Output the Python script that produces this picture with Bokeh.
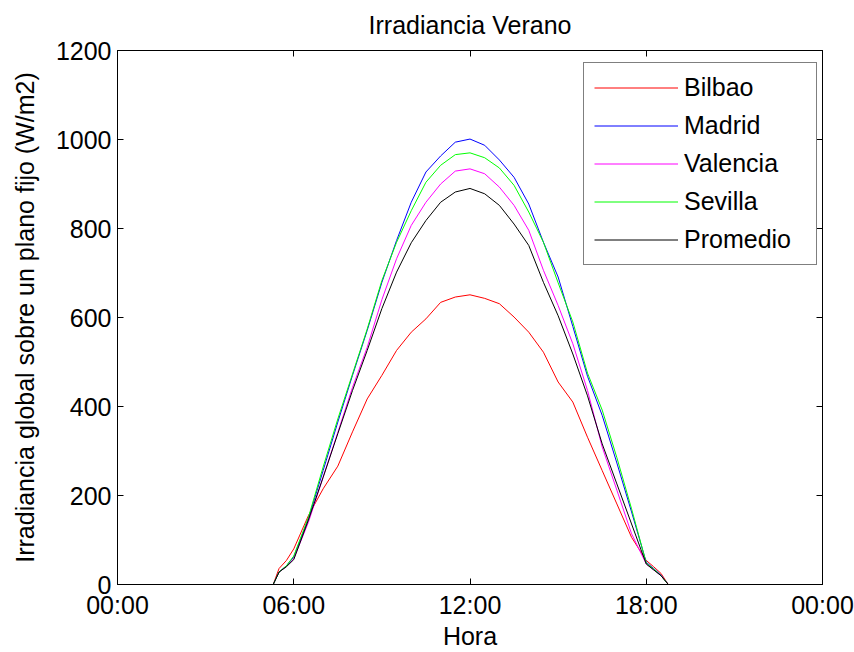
from bokeh.plotting import figure
from bokeh.models import Range1d, FixedTicker, LinearAxis, Legend, LegendItem, Title
from bokeh.embed import file_html
from bokeh.resources import INLINE

# Time of day (hours)
horas = [5.3, 5.5, 5.75, 6.0, 6.5, 7.0, 7.5, 8.0, 8.5, 9.0, 9.5, 10.0, 10.5, 11.0, 11.5, 12.0,
         12.5, 13.0, 13.5, 14.0, 14.5, 15.0, 15.5, 16.0, 16.5, 17.0, 17.5, 18.0, 18.25, 18.5, 18.75]

bilbao = [0, 36, 54, 80, 155, 215, 266, 343, 417, 470, 526, 567, 597, 634, 646, 651,
          643, 631, 601, 567, 522, 455, 410, 331, 256, 181, 106, 54, 40, 25, 0]
madrid = [0, 28, 42, 62, 148, 256, 365, 470, 571, 679, 773, 859, 927, 963, 994, 1001,
          987, 954, 915, 855, 769, 691, 580, 468, 380, 273, 163, 50, 36, 21, 0]
valencia = [0, 28, 40, 58, 140, 241, 342, 443, 533, 640, 732, 807, 859, 900, 929, 934,
            923, 893, 852, 796, 706, 627, 541, 436, 309, 212, 114, 46, 33, 20, 0]
sevilla = [0, 28, 42, 64, 151, 264, 372, 473, 574, 683, 769, 840, 904, 942, 966, 970,
           959, 936, 897, 837, 769, 678, 590, 475, 392, 285, 170, 48, 35, 20, 0]
promedio = [0, 28, 40, 56, 145, 241, 339, 436, 526, 620, 702, 768, 818, 859, 882, 890,
            878, 852, 810, 762, 679, 604, 518, 424, 316, 226, 136, 46, 33, 20, 0]

series = [("Bilbao", bilbao, "#ff0000"),
          ("Madrid", madrid, "#0000ff"),
          ("Valencia", valencia, "#ff00ff"),
          ("Sevilla", sevilla, "#00ff00"),
          ("Promedio", promedio, "#000000")]

x_ticks = [0, 6, 12, 18, 24]
x_tick_labels = ["00:00", "06:00", "12:00", "18:00", "00:00"]
y_ticks = [0, 200, 400, 600, 800, 1000, 1200]

FONT = "Liberation Sans"
FS = "25px"

p = figure(width=854, height=652, output_backend="svg", toolbar_location=None,
           x_range=Range1d(0, 24), y_range=Range1d(0, 1200),
           min_border_left=117, min_border_right=32, min_border_top=50, min_border_bottom=68)

p.title = Title(text="Irradiancia Verano", align="center", vertical_align="top",
                text_font=FONT, text_font_size=FS, text_font_style="normal",
                text_color="#000000", standoff=19)

p.xgrid.visible = False
p.ygrid.visible = False
p.outline_line_color = "#000000"
p.outline_line_width = 1
p.background_fill_color = "#ffffff"
p.border_fill_color = "#ffffff"

renderers = []
for name, vals, col in series:
    r = p.line(horas, vals, line_color=col, line_width=1)
    renderers.append((name, r))

xa = p.xaxis[0]
xa.ticker = FixedTicker(ticks=x_ticks)
xa.major_label_overrides = {t: l for t, l in zip(x_ticks, x_tick_labels)}
xa.axis_label = "Hora"
ya = p.yaxis[0]
ya.ticker = FixedTicker(ticks=y_ticks)
ya.axis_label = "Irradiancia global sobre un plano fijo (W/m2)"

for ax in (xa, ya):
    ax.major_tick_in = 6
    ax.major_tick_out = 0
    ax.minor_tick_in = 0
    ax.minor_tick_out = 0
    ax.axis_line_color = "#000000"
    ax.major_tick_line_color = "#000000"
    ax.major_label_text_font = FONT
    ax.major_label_text_font_size = FS
    ax.major_label_text_color = "#000000"
    ax.axis_label_text_font = FONT
    ax.axis_label_text_font_size = FS
    ax.axis_label_text_font_style = "normal"
    ax.axis_label_text_color = "#000000"

xa.major_label_standoff = 6
xa.axis_label_standoff = 0
ya.major_label_standoff = 6
ya.axis_label_standoff = 14

# mirrored tick marks on top and right
xt = LinearAxis(ticker=FixedTicker(ticks=x_ticks), major_label_text_font_size="0px",
                major_tick_in=6, major_tick_out=0, minor_tick_in=0, minor_tick_out=0,
                major_label_standoff=0, axis_line_color="#000000")
yr = LinearAxis(ticker=FixedTicker(ticks=y_ticks), major_label_text_font_size="0px",
                major_tick_in=6, major_tick_out=0, minor_tick_in=0, minor_tick_out=0,
                major_label_standoff=0, axis_line_color="#000000")
p.add_layout(xt, "above")
p.add_layout(yr, "right")

legend = Legend(items=[LegendItem(label=n, renderers=[r]) for n, r in renderers],
                location=(466, 319))
legend.label_text_font = FONT
legend.label_text_font_size = FS
legend.label_text_color = "#000000"
legend.border_line_color = "#000000"
legend.border_line_width = 1
legend.background_fill_color = "#ffffff"
legend.background_fill_alpha = 1
legend.glyph_width = 84
legend.glyph_height = 29
legend.label_height = 29
legend.label_width = 122
legend.label_standoff = 6
legend.spacing = 9
legend.padding = 10
legend.margin = 0
p.add_layout(legend, "center")

open("out.html", "w").write(file_html(p, INLINE))
